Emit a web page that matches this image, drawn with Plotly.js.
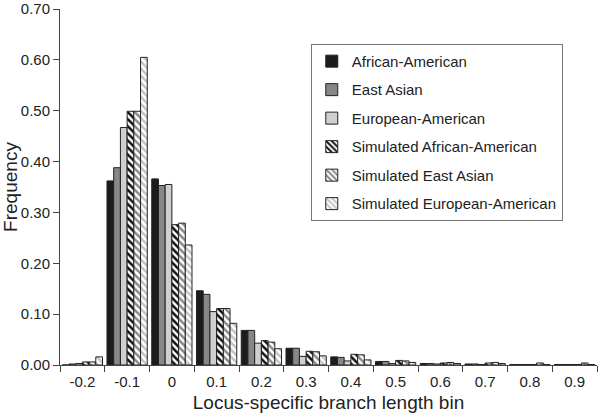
<!DOCTYPE html>
<html>
<head>
<meta charset="utf-8">
<script src="https://cdn.plot.ly/plotly-3.0.1.min.js"></script>
<style>html,body{margin:0;padding:0;background:#fff;}#chart{width:600px;height:414px;}</style>
</head>
<body>
<div id="chart"></div>
<script>
const bins = ["-0.2","-0.1","0","0.1","0.2","0.3","0.4","0.5","0.6","0.7","0.8","0.9"];
const africanAmerican   = [0.000, 0.362, 0.366, 0.146, 0.068, 0.033, 0.016, 0.007, 0.003, 0.002, 0.001, 0.001];
const eastAsian         = [0.002, 0.388, 0.353, 0.139, 0.068, 0.033, 0.015, 0.007, 0.003, 0.002, 0.001, 0.001];
const europeanAmerican  = [0.003, 0.467, 0.355, 0.105, 0.043, 0.017, 0.008, 0.003, 0.002, 0.001, 0.001, 0.001];
const simAfricanAmerican  = [0.006, 0.499, 0.276, 0.111, 0.048, 0.027, 0.021, 0.009, 0.004, 0.004, 0.001, 0.001];
const simEastAsian        = [0.006, 0.499, 0.279, 0.111, 0.045, 0.026, 0.020, 0.008, 0.005, 0.005, 0.004, 0.004];
const simEuropeanAmerican = [0.016, 0.605, 0.236, 0.082, 0.032, 0.018, 0.010, 0.005, 0.003, 0.003, 0.001, 0.001];
const seriesNames = ["African-American","East Asian","European-American","Simulated African-American","Simulated East Asian","Simulated European-American"];

const font = "Liberation Sans";
const outline = {color: "#222", width: 1};
function solid(name, y, color, g){
  return {type:"bar", name:name, x:bins, y:y, legendgroup:g,
    marker:{color:color, line:outline}};
}
function striped(name, y, fg, g){
  return {type:"bar", name:name, x:bins, y:y, legendgroup:g,
    marker:{color:"#ffffff", line:outline,
      pattern:{shape:"\\", fgcolor:fg, bgcolor:"#ffffff", size:5, solidity:0.5, fillmode:"replace"}}};
}
const data = [
  solid(seriesNames[0], africanAmerican, "#1c1c1c", "a"),
  solid(seriesNames[1], eastAsian, "#878787", "b"),
  solid(seriesNames[2], europeanAmerican, "#cfcfcf", "c"),
  striped(seriesNames[3], simAfricanAmerican, "#111111", "d"),
  striped(seriesNames[4], simEastAsian, "#8a8a8a", "e"),
  striped(seriesNames[5], simEuropeanAmerican, "#c4c4c4", "f")
];
const layout = {
  width:600, height:414,
  margin:{l:60, r:3, t:9, b:49},
  paper_bgcolor:"#fff", plot_bgcolor:"#fff",
  font:{family:font, color:"#222", size:15},
  barmode:"group", bargap:0.1, bargroupgap:0,
  showlegend:true,
  legend:{x:0.467, y:0.902, xanchor:"left", yanchor:"top",
    bordercolor:"#777", borderwidth:1, bgcolor:"#fff",
    font:{family:font, size:15, color:"#222"},
    traceorder:"grouped", tracegroupgap:6},
  xaxis:{type:"category", tickson:"boundaries", ticks:"outside", ticklen:6, tickcolor:"#444",
    showline:true, linecolor:"#444", linewidth:1, showgrid:false, zeroline:false,
    tickfont:{size:15}, ticklabelstandoff:3,
    title:{text:"Locus-specific branch length bin", font:{size:19}, standoff:6}},
  yaxis:{range:[0,0.7001], tickvals:[0,0.1,0.2,0.3,0.4,0.5,0.6,0.7], tickformat:".2f", ticks:"outside", ticklen:6, tickcolor:"#444",
    showline:true, linecolor:"#444", linewidth:1, showgrid:false, zeroline:false,
    tickfont:{size:15}, ticklabeloverflow:"allow",
    title:{text:"Frequency", font:{size:19}}}
};
Plotly.newPlot("chart", data, layout, {displayModeBar:false, staticPlot:true});
</script>
</body>
</html>
